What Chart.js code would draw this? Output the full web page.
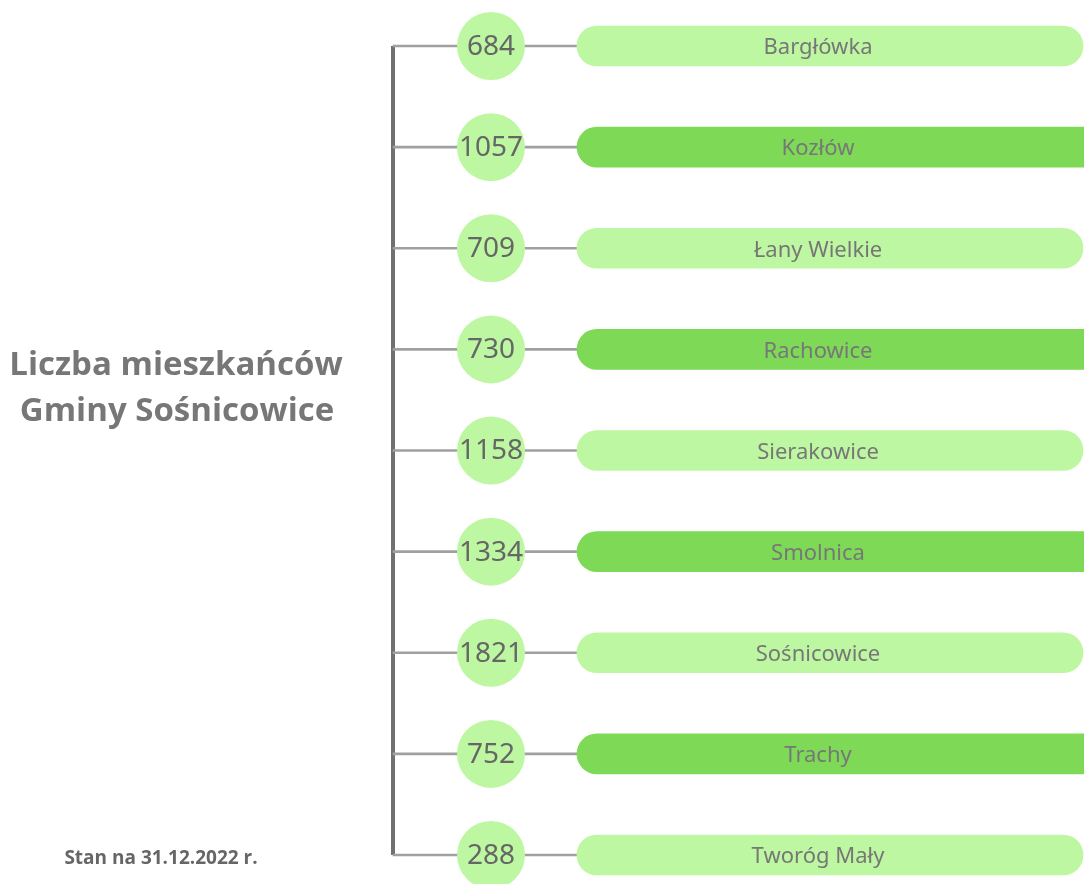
<!DOCTYPE html>
<html>
<head>
<meta charset="utf-8">
<script src="https://cdn.jsdelivr.net/npm/chart.js@4.4.0/dist/chart.umd.min.js"></script>
<style>
  html, body { margin: 0; padding: 0; background: #ffffff; overflow: hidden; }
  #wrap { width: 1084px; height: 884px; position: relative; }
</style>
</head>
<body>
<div id="wrap"><canvas id="chart"></canvas></div>
<script>
// dane: liczba mieszkańców wg sołectw
const villages = ['Bargłówka', 'Kozłów', 'Łany Wielkie', 'Rachowice', 'Sierakowice', 'Smolnica', 'Sośnicowice', 'Trachy', 'Tworóg Mały'];
const residents = [684, 1057, 709, 730, 1158, 1334, 1821, 752, 288];
const titleLines = ['Liczba mieszkańców', 'Gminy Sośnicowice'];
const footnote = 'Stan na 31.12.2022 r.';

// układ (w jednostkach osi x = piksele)
const TRUNK_X = 393;
const CIRCLE_X = 491;
const PILL_START = 577;
const LABEL_X = 818;

const LIGHT = '#bdf7a1';
const DARK = '#7ed957';

const pillColors = villages.map((_, i) => i % 2 ? DARK : LIGHT);
const pillRanges = villages.map((_, i) => [PILL_START, i % 2 ? 1120 : 1083]);

const textPlugin = {
    id: 'textPlugin',
    afterDatasetsDraw(chart) {
        const ctx = chart.ctx;
        const xScale = chart.scales.x;
        ctx.save();
        ctx.textAlign = 'center';
        ctx.textBaseline = 'middle';

        // liczby w kółkach
        const circles = chart.getDatasetMeta(3);
        ctx.fillStyle = '#666666';
        ctx.font = '28px "Noto Sans", sans-serif';
        circles.data.forEach((pt, i) => {
            ctx.fillText(String(residents[i]), pt.x, pt.y + 1);
        });

        // nazwy w paskach
        const pills = chart.getDatasetMeta(2);
        ctx.fillStyle = '#777777';
        ctx.font = '22px "Noto Sans", sans-serif';
        pills.data.forEach((bar, i) => {
            ctx.fillText(villages[i], xScale.getPixelForValue(LABEL_X), bar.y + 2);
        });

        // tytuł
        ctx.fillStyle = '#777777';
        ctx.font = 'bold 33px "Open Sans", sans-serif';
        ctx.fillText(titleLines[0], 176, 366);
        ctx.fillText(titleLines[1], 177, 412);

        // stopka
        ctx.fillStyle = '#666666';
        ctx.font = 'bold 19px "Open Sans", sans-serif';
        ctx.fillText(footnote, 161, 859);
        ctx.restore();
    }
};

new Chart(document.getElementById('chart'), {
    type: 'bar',
    data: {
        labels: villages,
        datasets: [
            {
                // pień
                type: 'line',
                data: [{ x: TRUNK_X, y: villages[0] }, { x: TRUNK_X, y: villages[villages.length - 1] }],
                borderColor: '#707070',
                borderWidth: 4,
                pointRadius: 0,
                clip: false,
                order: 5
            },
            {
                // gałęzie
                type: 'bar',
                data: villages.map(() => [TRUNK_X, PILL_START + 5]),
                backgroundColor: '#a0a0a0',
                barThickness: 2,
                grouped: false,
                clip: false,
                order: 4
            },
            {
                // paski z nazwami
                type: 'bar',
                data: pillRanges,
                backgroundColor: pillColors,
                barThickness: 40,
                borderRadius: 20,
                borderSkipped: false,
                grouped: false,
                clip: false,
                order: 3
            },
            {
                // kółka z liczbami
                type: 'scatter',
                data: villages.map(v => ({ x: CIRCLE_X, y: v })),
                backgroundColor: LIGHT,
                borderWidth: 0,
                pointRadius: 34,
                clip: false,
                order: 1
            }
        ]
    },
    options: {
        indexAxis: 'y',
        responsive: true,
        maintainAspectRatio: false,
        animation: false,
        events: [],
        layout: { autoPadding: false, padding: { top: 46, bottom: 29, left: 0, right: 0 } },
        scales: {
            x: { type: 'linear', min: 0, max: 1084, display: false },
            y: { type: 'category', offset: false, display: false }
        },
        plugins: {
            legend: { display: false },
            tooltip: { enabled: false },
            title: { display: false }
        }
    },
    plugins: [textPlugin]
});
</script>
</body>
</html>
